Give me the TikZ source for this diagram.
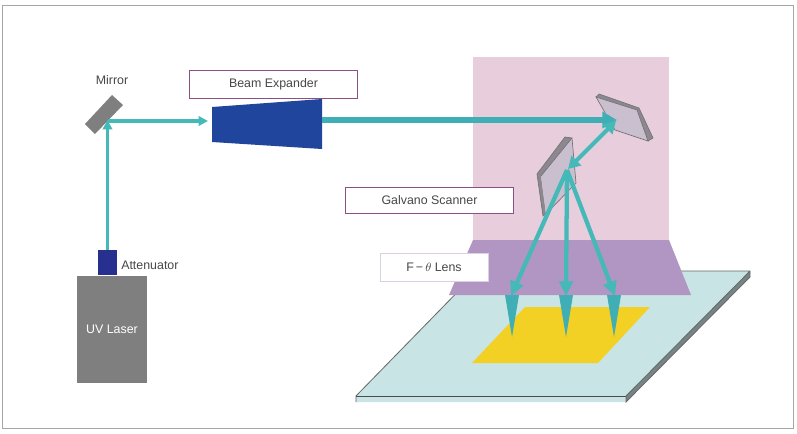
\documentclass[tikz,border=0pt]{standalone}
\usepackage{fontspec}
\setmainfont{Liberation Sans}
\usetikzlibrary{arrows.meta}
\definecolor{beam}{HTML}{45B8B8}
\definecolor{beamd}{HTML}{3FAFB5}
\definecolor{pinkbox}{HTML}{E8CEDC}
\definecolor{lens}{HTML}{B195C3}
\definecolor{plate}{HTML}{C9E4E4}
\definecolor{gold}{HTML}{F3D024}
\definecolor{blueexp}{HTML}{1F459C}
\definecolor{bluea}{HTML}{27308F}
\definecolor{grayl}{HTML}{7F7F7F}
\definecolor{mface}{HTML}{C9BFCF}
\definecolor{mside}{HTML}{8C8790}
\definecolor{tagline}{HTML}{8A4F85}
\tikzset{
  lbl/.style={font=\fontsize{9.3}{11}\selectfont, text=black!72, inner sep=0pt},
  tagbox/.style={draw=#1, line width=0.75pt, fill=white, inner sep=0pt, font=\fontsize{9.3}{11}\selectfont, text=black!72},
  thin beam/.style={draw=beam, line width=2.5pt, -{Triangle[length=7pt,width=7pt]}},
  fan beam/.style={draw=beam, line width=3.2pt, -{Triangle[length=11pt,width=10pt]}},
  cone/.style={fill=beamd, draw=none},
  mframe/.style={draw=black!55, line width=0.5pt},
}
\begin{document}
\begin{tikzpicture}[x=0.75pt,y=-0.75pt]
\useasboundingbox (0,0) rectangle (797,433);
\fill[white] (0,0) rectangle (797,433);
\draw[black!35, line width=0.6pt] (2,5) rectangle (793,428);

% plate
\fill[plate] (356,396) -- (478,271) -- (750,271) -- (626,396) -- (626,402) -- (356,402) -- cycle;
\fill[black!42!plate] (626,396) -- (750,271) -- (750,277) -- (626,402) -- cycle;
\draw[black!60, line width=0.6pt] (356,402) -- (356,396) -- (478,271) -- (750,271) -- (750,277) -- (626,402) -- (626,396) -- (750,271);
\draw[black!70, line width=0.7pt] (356,396) -- (626,396);
% sample
\fill[gold] (525,307) -- (650,307) -- (598,363) -- (472,363) -- cycle;

% housing and lens
\fill[pinkbox] (473,57) rectangle (669,240);
\fill[lens] (473,240) -- (669,240) -- (691,295) -- (449,295) -- cycle;

% mirrors
\fill[mside] (596,97) -- (599,94) -- (639,108) -- (653,138) -- (648,141) -- (637,110) -- cycle;
\fill[mface] (596,97) -- (637,110) -- (648,141) -- (615,130) -- cycle;
\draw[mframe] (596,97) -- (637,110) -- (648,141) -- (615,130) -- cycle;
\draw[mframe] (596,97) -- (599,94) -- (639,108) -- (653,138) -- (648,141);
\fill[mside] (537,174) -- (565,137) -- (572,138) -- (541,176) -- (546,214) -- (543,216) -- cycle;
\fill[mface] (541,176) -- (572,138) -- (576,183) -- (546,214) -- cycle;
\draw[mframe] (537,174) -- (565,137) -- (572,138) -- (576,183) -- (546,214) -- (543,216) -- cycle;
\draw[mframe] (541,176) -- (572,138);
\fill[grayl] (112,95) -- (123,105) -- (95,134) -- (85,124) -- cycle;

% optics
\fill[blueexp] (212,107) -- (322,99) -- (322,149) -- (212,142) -- cycle;
\coordinate (bexpin) at (208,121);
\coordinate (bexpout) at (322,120);

\node[fill=grayl, minimum width=52.5pt, minimum height=80.25pt, inner sep=0pt, text=white, font=\fontsize{9.3}{11}\selectfont] (laser) at (112,329.5) {UV Laser};
\node[fill=bluea, minimum width=14.25pt, minimum height=18.75pt, inner sep=0pt] (att) at (107.5,262.5) {};

\coordinate (mir) at (107.5,120);
\coordinate (mirh) at (107.5,121);
\coordinate (gm1) at (617,120);
\coordinate (gm2) at (568,169);
\coordinate (gm1b) at (616,121);
\coordinate (src) at (567,170);
\coordinate (t1) at (511,296);
\coordinate (t2) at (566,296);
\coordinate (t3) at (615,296);

% beams
\draw[thin beam] (att.north) -- (mir);
\draw[thin beam] (mirh) -- (bexpin);
\draw[draw=beamd, line width=4pt, -{Triangle[length=11pt,width=12pt]}] (bexpout) -- (gm1);
\draw[draw=beam, line width=3pt, {Triangle[length=9pt,width=10pt]}-{Triangle[length=9pt,width=10pt]}] (gm1b) -- (gm2);
\draw[fan beam] (src) -- (t1);
\draw[fan beam] (src) -- (t2);
\draw[fan beam] (src) -- (t3);
\fill[cone] (505,295) -- (519,295) -- (512,337) -- cycle;
\fill[cone] (559,295) -- (573,295) -- (566,337) -- cycle;
\fill[cone] (607,295) -- (621,295) -- (614,337) -- cycle;

% labels
\node[tagbox=tagline, minimum width=126pt, minimum height=21pt] (bebox) at (273.5,84) {Beam Expander};
\node[tagbox=tagline, minimum width=126pt, minimum height=19.5pt] (gsbox) at (429.5,200) {Galvano Scanner};
\node[tagbox=lens!55, draw=lens!45, line width=0.5pt, minimum width=81pt, minimum height=21pt] (flbox) at (434,267) {F\,−\,\(\theta\) Lens};
\node[lbl] (mirlabel) at (112,80) {Mirror};
\node[lbl, anchor=west] (attlabel) at (121,265) {Attenuator};
\end{tikzpicture}
\end{document}
